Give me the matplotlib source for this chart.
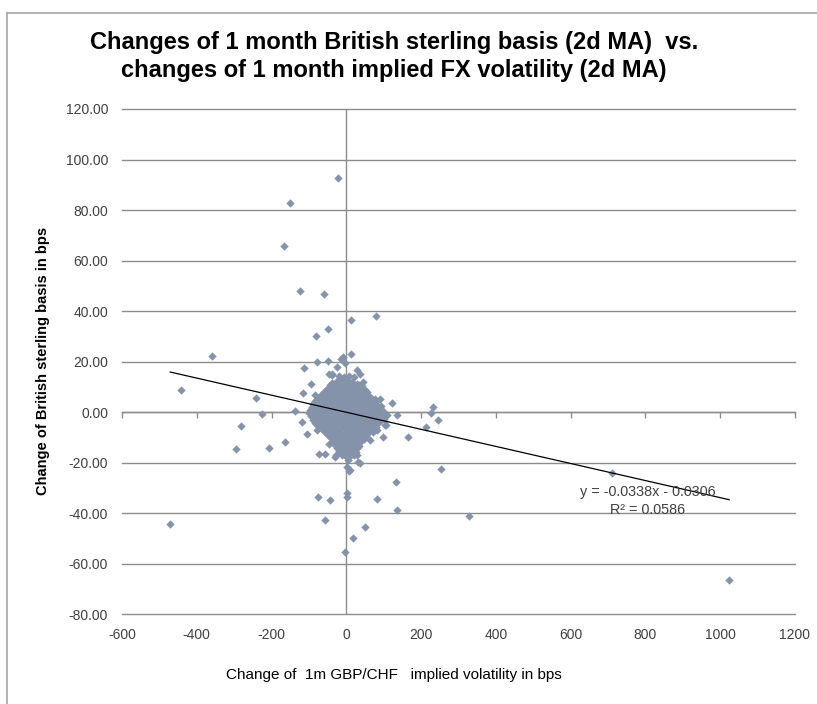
import matplotlib.pyplot as plt
from matplotlib.lines import Line2D
import numpy as np

# scattered days away from the main cloud (vol change bps, basis change bps)
outlier_x = [-23, -151, -166, -124, -60, 13, 79, -50, -81,
             -359, -443, -241, -226, -137, -283, -119, -106, -294, -206, -165,
             -47, -72, -57, -29, -76, -44, -57, 3, 1, 19, -4, 50, 81, 134, 135,
             -471, 8, 32, 28, -117, -84, 90, 122, 107, 99, 72, 135, 166,
             233, 227, 245, 214, 252, 329, 711, 1024,
             -79, -50, -113, -46, -38, -15, 12, -10, 28, 45, -95,
             21, -27, -3, 3, 103, -88, -61, -39, -26, -4, 37, 81, 63, 37, 5, 10, -79]
outlier_y = [92.6, 82.9, 65.7, 48.0, 46.8, 36.5, 38.2, 33.0, 30.0,
             22.4, 8.8, 5.8, -0.9, 0.4, -5.5, -4.0, -8.6, -14.7, -14.2, -11.7,
             -12.7, -16.4, -16.6, -17.7, -33.5, -34.6, -42.5, -31.8, -33.6, -49.8, -55.3, -45.6, -34.2, -27.6, -38.9,
             -44.1, -23.4, -19.8, -17.0, 7.4, 6.7, 5.2, 3.7, -5.0, -9.7, -7.8, -1.0, -9.7,
             1.9, -0.5, -2.9, -6.0, -22.6, -41.0, -24.0, -66.5,
             19.8, 20.3, 17.4, 15.2, 15.0, 20.9, 23.2, 21.7, 16.6, 11.8, 11.1,
             -17.0, -17.0, -17.0, -21.6, -5.1, 3.4, 6.7, 14.6, 18.0, 19.3, 15.3, -7.1, -11.1, -20.3, -19.0, -23.0, -7.1]

# dense cloud of small moves around zero
core_x = [-20, -6, 8, 20,
          -38, -25, -11, 2, 15, 28,
          -45, -32, -19, -6, 7, 20, 33, 43,
          -53, -40, -27, -14, -1, 12, 25, 38, 49,
          -61, -48, -35, -22, -9, 4, 17, 30, 43, 55,
          -68, -56, -43, -31, -18, -5, 8, 21, 34, 47, 60,
          -77, -63, -50, -37, -24, -11, 2, 15, 28, 41, 54, 66, 76,
          -84, -71, -58, -45, -32, -19, -6, 7, 20, 33, 46, 59, 72, 80,
          -88, -75, -62, -49, -36, -23, -10, 3, 16, 29, 42, 55, 68, 82, 92,
          -93, -80, -67, -54, -41, -28, -15, -2, 11, 24, 37, 50, 63, 76, 89,
          -96, -83, -70, -57, -44, -31, -18, -5, 8, 21, 34, 47, 60, 73, 86, 100,
          -99, -86, -73, -60, -47, -34, -21, -8, 5, 18, 31, 44, 57, 70, 83, 96, 108,
          -95, -82, -69, -56, -43, -30, -17, -4, 9, 22, 35, 48, 61, 74, 87, 102,
          -90, -77, -64, -51, -38, -25, -12, 1, 14, 27, 40, 53, 66, 79, 92, 100,
          -84, -71, -58, -45, -32, -19, -6, 7, 20, 33, 46, 59, 72, 86,
          -76, -63, -50, -37, -24, -11, 2, 15, 28, 41, 54, 67, 80,
          -66, -53, -40, -27, -14, -1, 12, 25, 38, 51, 64, 72,
          -56, -43, -30, -17, -4, 9, 22, 35, 48, 60,
          -49, -36, -23, -10, 3, 16, 29, 42, 53,
          -41, -28, -15, -2, 11, 24, 37, 46,
          -36, -23, -10, 3, 16, 29, 40,
          -31, -18, -5, 8, 21, 34,
          -25, -12, 1, 14, 28,
          -20, -7, 6, 19, 26,
          -12, 0, 12]
core_y = [14.2, 13.8, 14.5, 13.9,
          11.6, 12.3, 13.1, 12.6, 11.9, 11.2,
          10.9, 10.5, 11.2, 10.7, 11.0, 10.4, 10.8, 10.2,
          9.2, 9.9, 9.4, 10.1, 9.6, 9.3, 10.0, 9.1, 8.7,
          8.1, 8.5, 8.0, 8.6, 8.3, 8.8, 8.2, 8.4, 7.9, 8.0,
          6.8, 7.3, 6.5, 7.2, 6.9, 7.5, 6.7, 7.1, 6.4, 7.0, 6.6,
          5.6, 6.0, 5.5, 5.9, 5.7, 6.1, 5.4, 5.8, 5.5, 6.0, 5.3, 5.7, 5.2,
          4.3, 4.8, 4.1, 4.7, 4.4, 4.9, 4.2, 4.6, 4.0, 4.8, 4.3, 4.5, 3.9, 4.6,
          3.1, 3.4, 2.9, 3.3, 3.0, 3.5, 3.2, 2.8, 3.4, 3.1, 2.9, 3.3, 3.0, 2.7, 2.6,
          2.2, 1.8, 2.4, 1.9, 2.1, 2.5, 1.7, 2.3, 2.0, 1.6, 2.4, 1.9, 2.2, 1.7, 1.5,
          0.9, 0.6, 1.1, 0.7, 1.0, 0.5, 0.8, 1.2, 0.6, 0.9, 0.4, 0.8, 0.5, 0.7, 0.3, 0.2,
          -0.3, -0.8, -0.2, -0.6, -0.9, -0.4, -0.7, -0.1, -0.5, -0.8, -0.3, -0.6, -0.9, -0.4, -0.7, -0.5, -1.0,
          -1.7, -2.0, -1.6, -1.9, -2.1, -1.8, -1.5, -2.0, -1.7, -2.2, -1.9, -1.6, -2.1, -1.8, -2.0, -1.7,
          -3.2, -2.8, -3.4, -2.9, -3.1, -2.6, -3.3, -2.7, -3.0, -3.5, -2.8, -3.2, -2.9, -3.4, -3.1, -2.7,
          -4.2, -4.6, -4.1, -4.5, -4.3, -4.7, -4.0, -4.4, -4.6, -4.2, -4.5, -4.1, -4.4, -4.3,
          -5.3, -5.8, -5.4, -5.9, -5.2, -5.7, -5.5, -6.0, -5.3, -5.6, -5.9, -5.4, -5.7,
          -6.7, -7.0, -6.6, -7.1, -6.8, -6.5, -6.9, -7.2, -6.6, -7.0, -6.7, -6.9,
          -7.8, -8.3, -7.9, -8.4, -8.1, -7.7, -8.2, -8.0, -8.5, -7.9,
          -9.2, -9.5, -9.1, -9.6, -9.3, -9.0, -9.4, -9.2, -9.6,
          -10.3, -10.8, -10.4, -10.9, -10.6, -10.2, -10.7, -10.5,
          -11.7, -12.0, -11.6, -11.9, -11.8, -12.1, -11.5,
          -12.8, -13.3, -13.0, -13.4, -12.9, -13.2,
          -14.2, -14.5, -14.1, -14.6, -14.3,
          -15.3, -15.8, -15.4, -15.9, -15.6,
          -16.9, -17.3, -16.8]

# linear trend as reported on the chart
slope = -0.0338
intercept = -0.0306
r_squared = 0.0586

x_ticks = [-600, -400, -200, 0, 200, 400, 600, 800, 1000, 1200]
y_ticks = [-80, -60, -40, -20, 0, 20, 40, 60, 80, 100, 120]

plt.rcParams['font.family'] = ['Liberation Sans', 'DejaVu Sans']

fig = plt.figure(figsize=(8.17, 7.04), dpi=100)
ax = fig.add_axes([122 / 817, 1 - 614.3 / 704, (795 - 122) / 817, (614.3 - 109) / 704])

grid_col = '#8c8c8c'
tick_col = '#404040'
dot_col = '#8593aa'

ax.set_xlim(-600, 1200)
ax.set_ylim(-80, 120)
ax.set_xticks(x_ticks)
ax.set_yticks(y_ticks)
ax.set_yticklabels([f'{v:.2f}' for v in y_ticks])
ax.set_xticklabels([str(v) for v in x_ticks])
ax.tick_params(axis='both', length=0, labelsize=10, colors=tick_col)
ax.tick_params(axis='y', pad=10)
ax.tick_params(axis='x', pad=10)
for s in ax.spines.values():
    s.set_visible(False)
ax.yaxis.grid(True, color=grid_col, lw=1.0)
for gl in ax.get_ygridlines():
    gl.set_clip_on(False)
ax.set_axisbelow(True)

# axis lines crossing at zero
ax.axvline(0, color=grid_col, lw=1.0, zorder=1)
zero_axis = ax.secondary_xaxis(0, transform=ax.transData)
zero_axis.set_xticks(x_ticks)
zero_axis.set_xticklabels([])
zero_axis.tick_params(direction='out', length=4, width=1.0, color=grid_col)
zero_axis.spines['bottom'].set_color(grid_col)
zero_axis.spines['bottom'].set_linewidth(1.0)

all_x = np.array(outlier_x + core_x, dtype=float)
all_y = np.array(outlier_y + core_y, dtype=float)
ax.scatter(all_x, all_y, marker='D', s=18, color=dot_col, linewidths=0, zorder=3)

xs = np.array([all_x.min(), all_x.max()])
ax.plot(xs, slope * xs + intercept, color='black', lw=0.9, zorder=4)

ax.text(807, -31.7, f'y = {slope:.4f}x - {abs(intercept):.4f}', ha='center', va='center',
        fontsize=10.4, color=tick_col, zorder=5)
ax.text(807, -38.8, f'R² = {r_squared:.4f}', ha='center', va='center',
        fontsize=10.4, color=tick_col, zorder=5)

fig.text(394 / 817, 1 - 56.5 / 704,
         'Changes of 1 month British sterling basis (2d MA)  vs.\nchanges of 1 month implied FX volatility (2d MA)',
         ha='center', va='center', fontsize=17, fontweight='bold', linespacing=1.3)
fig.text(43 / 817, 1 - 361 / 704, 'Change of British sterling basis in bps', rotation=90,
         ha='center', va='center', fontsize=10.5, fontweight='bold')
fig.text(394 / 817, 1 - 675 / 704, 'Change of  1m GBP/CHF   implied volatility in bps',
         ha='center', va='center', fontsize=11)

# chart area border
fig.add_artist(Line2D([7 / 817, 7 / 817], [1 - 13 / 704, 0], color='#a6a6a6', lw=1.2))
fig.add_artist(Line2D([7 / 817, 1], [1 - 13 / 704, 1 - 13 / 704], color='#a6a6a6', lw=1.2))

fig.savefig('out.png', dpi=100)
